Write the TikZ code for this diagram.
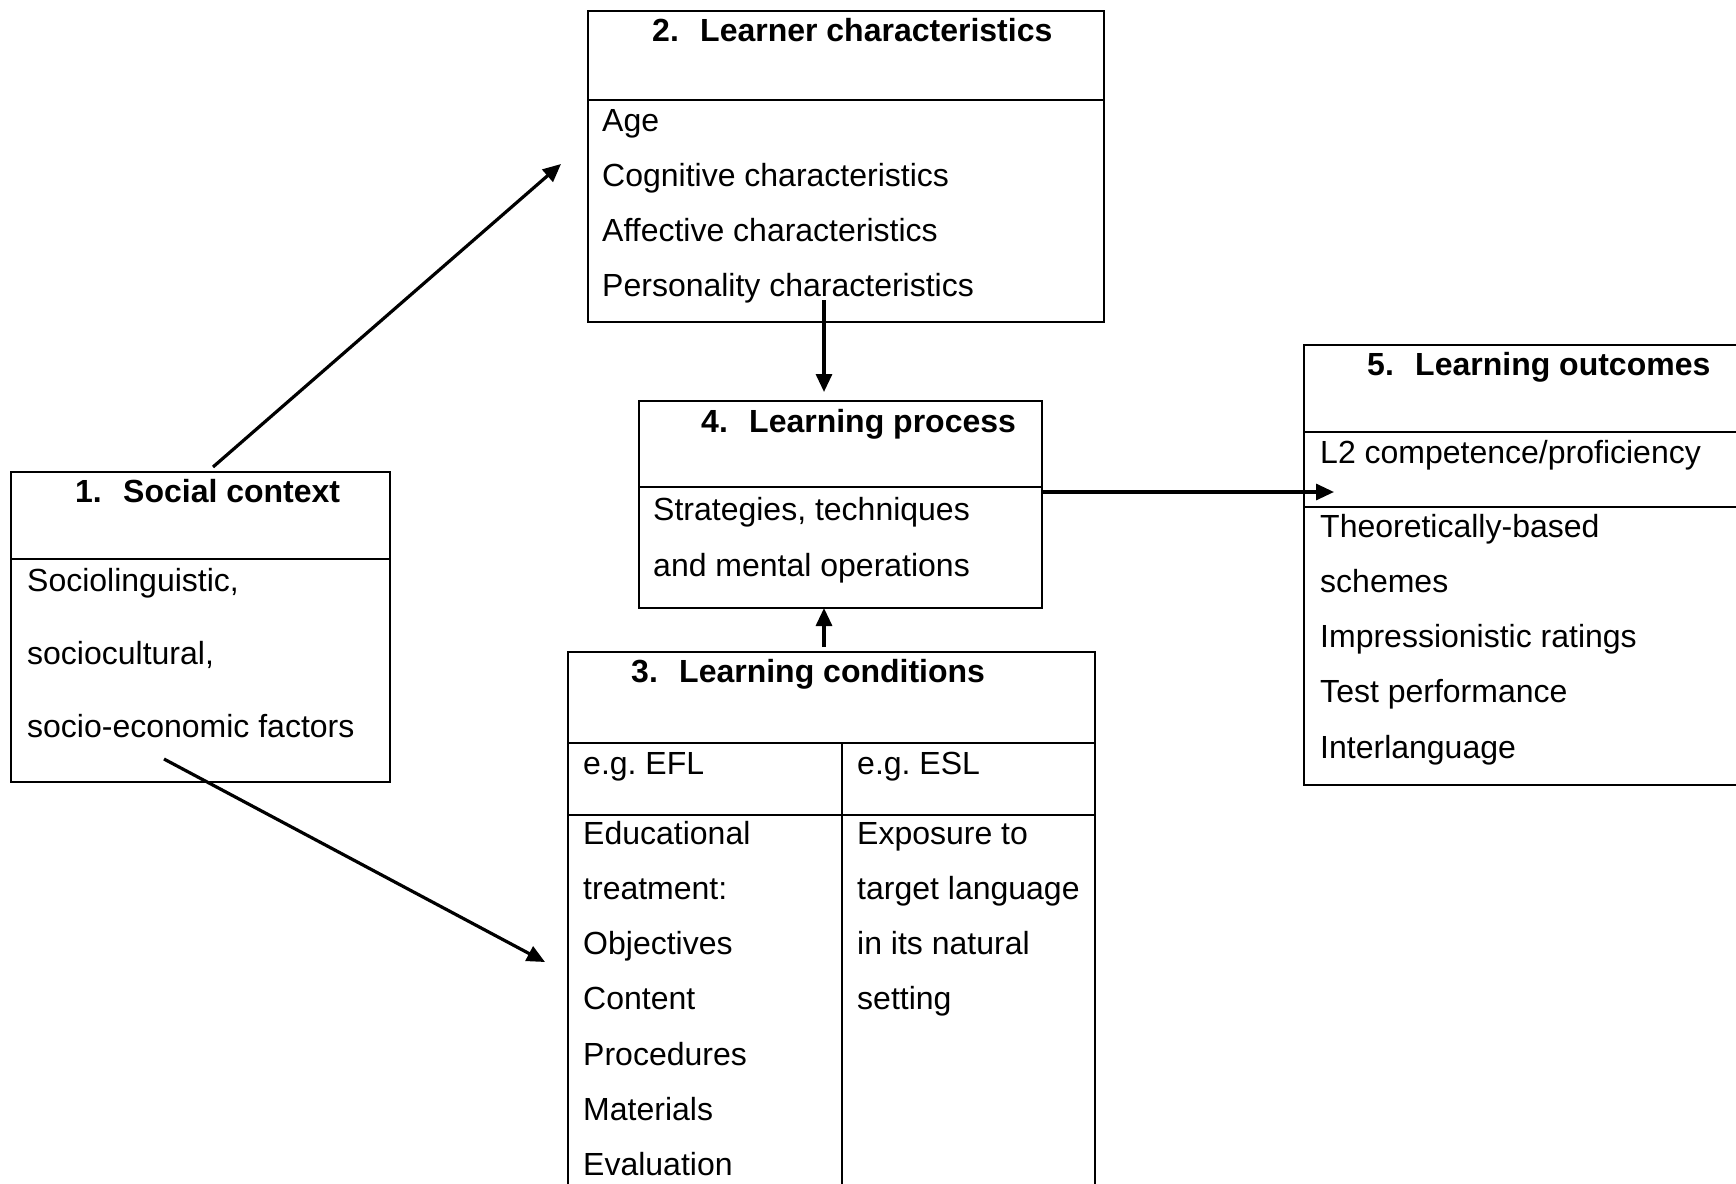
\documentclass[tikz,border=0pt]{standalone}
\usepackage{fontspec}
\setmainfont{Liberation Sans}
\usetikzlibrary{arrows.meta}

\tikzset{
  box/.style={draw, line width=2.7pt, anchor=north west, inner sep=0pt, outer sep=0pt},
  rule/.style={line width=2.7pt},
  item/.style={anchor=base west, inner sep=0pt, font=\fontsize{32}{38}\selectfont},
  head/.style={item, font=\fontsize{32}{38}\selectfont\bfseries},
  link/.style={line width=3.2pt, -{Triangle[length=18pt,width=16pt]}},
}
\newcommand{\headnum}[2]{\makebox[48pt][l]{#1}#2}

\begin{document}
\begin{tikzpicture}[x=1pt, y=-1pt]
    \useasboundingbox (0,0) rectangle (1736,1183);

    % boxes
    \node[box, minimum width=379pt, minimum height=310pt] (social) at (11,472) {};
    \node[box, minimum width=516pt, minimum height=311pt] (learner) at (588,11) {};
    \node[box, minimum width=403pt, minimum height=207pt] (process) at (639,401) {};
    \node[box, minimum width=527pt, minimum height=545pt] (conditions) at (568,652) {};
    \node[box, minimum width=445pt, minimum height=440pt] (outcomes) at (1304,345) {};

    % dividers
    \draw[rule] (11,559) -- (390,559);
    \draw[rule] (588,100) -- (1104,100);
    \draw[rule] (639,487) -- (1042,487);
    \draw[rule] (568,743) -- (1095,743);
    \draw[rule] (568,815) -- (1095,815);
    \draw[rule] (842,743) -- (842,1197);
    \draw[rule] (1304,432) -- (1749,432);
    \draw[rule] (1304,507) -- (1749,507);

    % headings
    \node[head] (h1) at (75,502) {\headnum{1.}{Social context}};
    \node[head] (h2) at (652,41) {\headnum{2.}{Learner characteristics}};
    \node[head] (h3) at (631,682) {\headnum{3.}{Learning conditions}};
    \node[head] (h4) at (701,432) {\headnum{4.}{Learning process}};
    \node[head] (h5) at (1367,375) {\headnum{5.}{Learning outcomes}};

    % 1. social context
    \node[item] (sc1) at (27,591) {Sociolinguistic,};
    \node[item] (sc2) at (27,664) {sociocultural,};
    \node[item] (sc3) at (27,737) {socio-economic factors};

    % 2. learner characteristics
    \foreach \t [count=\i] in {Age, Cognitive characteristics,
        Affective characteristics, Personality characteristics}
      \node[item] (lc\i) at (602,76+55*\i) {\t};

    % 4. learning process
    \node[item] (lp1) at (653,520) {Strategies, techniques};
    \node[item] (lp2) at (653,576) {and mental operations};

    % 3. learning conditions
    \node[item] (efl) at (583,774) {e.g.\ EFL};
    \node[item] (esl) at (857,774) {e.g.\ ESL};
    \foreach \t [count=\i] in {Educational, treatment:, Objectives, Content,
        Procedures, Materials, Evaluation}
      \node[item] (ed\i) at (583,789+55.2*\i) {\t};
    \foreach \t [count=\i] in {Exposure to, target language,
        in its natural, setting}
      \node[item] (ex\i) at (857,789+55.2*\i) {\t};

    % 5. learning outcomes
    \node[item] (lo0) at (1320,463) {L2 competence/proficiency};
    \foreach \t [count=\i] in {Theoretically-based, schemes,
        Impressionistic ratings, Test performance, Interlanguage}
      \node[item] (lo\i) at (1320,482+55.2*\i) {\t};

    % arrows
    \coordinate (s12) at (213,467);
    \coordinate (t12) at (561,164);
    \coordinate (s13) at (164,759);
    \coordinate (t13) at (545,962);
    \coordinate (s24) at (824,300);
    \coordinate (t24) at (824,392);
    \coordinate (s34) at (824,647);
    \coordinate (t34) at (824,608);
    \coordinate (t45) at (1334,492);

    \draw[link] (s12) -- (t12);
    \draw[link] (s13) -- (t13);
    \draw[link] (s24) -- (t24);
    \draw[link] (s34) -- (t34);
    \draw[link] (process.east |- t45) -- (t45);
\end{tikzpicture}
\end{document}
